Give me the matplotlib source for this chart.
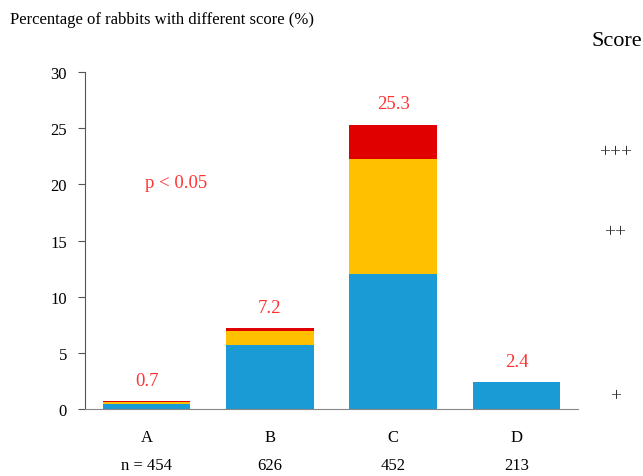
import numpy as np
import matplotlib.pyplot as plt

plt.rcParams['font.family'] = ['Liberation Serif', 'DejaVu Serif']

groups = ['A', 'B', 'C', 'D']
n_counts = ['n = 454', '626', '452', '213']
score1 = [0.45, 5.7, 12.0, 2.4]   # +
score2 = [0.2, 1.25, 10.3, 0.0]   # ++
score3 = [0.05, 0.25, 3.0, 0.0]   # +++
totals = ['0.7', '7.2', '25.3', '2.4']

fig = plt.figure(figsize=(6.43, 4.77), dpi=100)
ax = fig.add_axes([0.132, 0.140, 0.767, 0.707])

x = np.arange(len(groups))
s1 = np.array(score1)
s2 = np.array(score2)
s3 = np.array(score3)
w = 0.71
ax.bar(x, s1, w, color='#1a9bd6')
ax.bar(x, s2, w, bottom=s1, color='#ffc000')
ax.bar(x, s3, w, bottom=s1 + s2, color='#e00000')

tops = s1 + s2 + s3
for xi, t, lab in zip(x, tops, totals):
    ax.text(xi, t + 1.1, lab, ha='center', va='bottom', color='#ff3333', fontsize=13.5)

ax.text(0.24, 20.2, 'p < 0.05', ha='center', va='center', color='#ff3333', fontsize=13.5)

ax.set_xlim(-0.5, 3.5)
ax.set_ylim(0, 30)
ax.set_yticks([0, 5, 10, 15, 20, 25, 30])
ax.set_xticks(x)
ax.set_xticklabels(groups, fontsize=12)
ax.tick_params(axis='x', length=0, pad=14)
ax.tick_params(axis='y', length=5, labelsize=12, color='#555555', pad=8)
for sp in ['top', 'right']:
    ax.spines[sp].set_visible(False)
ax.spines['left'].set_color('#555555')
ax.spines['bottom'].set_color('#888888')

for xi, nl in zip(x, n_counts):
    ax.text(xi, -5.0, nl, ha='center', va='center', fontsize=12)

fig.text(0.016, 0.958, 'Percentage of rabbits with different score (%)', ha='left', va='center', fontsize=12)
fig.text(0.960, 0.912, 'Score', ha='center', va='center', fontsize=16)
score_labels = ['+++', '++', '+']
score_y = [22.9, 15.8, 1.2]
for lab, yy in zip(score_labels, score_y):
    ax.text(1.075, yy, lab, transform=ax.get_yaxis_transform(), ha='center', va='center',
            fontsize=14, color='#333333', clip_on=False)

fig.savefig('out.png', dpi=100)
